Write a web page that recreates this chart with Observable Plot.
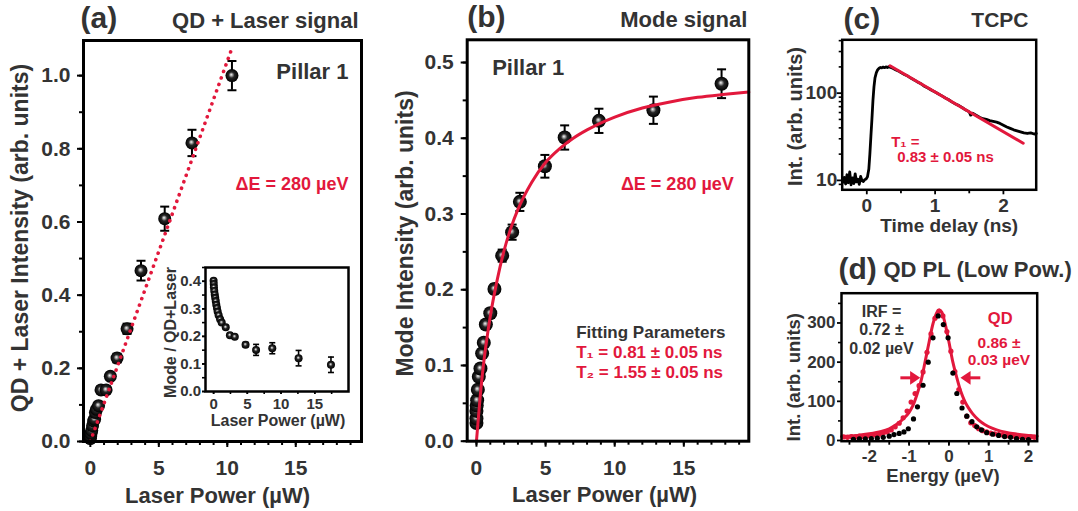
<!DOCTYPE html>
<html><head><meta charset="utf-8">
<script src="https://cdn.jsdelivr.net/npm/d3@7"></script>
<script src="https://cdn.jsdelivr.net/npm/@observablehq/plot@0.6"></script>
<style>
body{margin:0;background:#fff;}
#root{position:relative;width:1078px;height:511px;overflow:hidden;background:#fff;}
</style></head><body><div id="root"></div>
<script>
// ---------------- DATA ----------------
// (a) QD + Laser signal
const aPower = [0.0, 0.02, 0.05, 0.1, 0.16, 0.24, 0.31, 0.37, 0.45, 0.6, 0.78, 1.15, 1.46, 1.95, 2.68, 3.7, 5.43, 7.42, 10.34];
const aInt   = [0.008, 0.014, 0.022, 0.03, 0.043, 0.056, 0.061, 0.079, 0.088, 0.098, 0.141, 0.141, 0.178, 0.228, 0.308, 0.467, 0.609, 0.816, 1.0];
const aErr   = [0.005, 0.005, 0.005, 0.005, 0.006, 0.006, 0.006, 0.007, 0.007, 0.008, 0.009, 0.009, 0.01, 0.012, 0.014, 0.027, 0.033, 0.036, 0.04];
const aFitX  = [0, 10.35];
const aFitY  = [0, 1.076];
// (a) inset: Mode / (QD+Laser)
const insPower = [0.0, 0.02, 0.05, 0.1, 0.17, 0.24, 0.32, 0.4, 0.5, 0.6, 0.75, 0.97, 1.2, 1.8, 2.42, 3.14, 4.74, 6.3, 8.7, 12.6, 17.4];
const insRatio = [0.402, 0.39, 0.378, 0.365, 0.352, 0.34, 0.328, 0.315, 0.303, 0.29, 0.277, 0.262, 0.25, 0.233, 0.204, 0.199, 0.17, 0.151, 0.157, 0.121, 0.097];
const insErr   = [0.004, 0.004, 0.004, 0.004, 0.004, 0.004, 0.004, 0.004, 0.004, 0.004, 0.004, 0.004, 0.004, 0.005, 0.005, 0.005, 0.008, 0.02, 0.02, 0.028, 0.028];
// (b) Mode signal
const bPower = [0.0, 0.0, 0.0, 0.02, 0.05, 0.1, 0.17, 0.29, 0.41, 0.53, 0.68, 1.0, 1.3, 1.86, 2.58, 3.14, 4.95, 6.38, 8.86, 12.8, 17.73];
const bInt   = [0.024, 0.03, 0.04, 0.047, 0.054, 0.068, 0.085, 0.096, 0.116, 0.13, 0.154, 0.169, 0.201, 0.245, 0.276, 0.316, 0.363, 0.401, 0.423, 0.437, 0.472];
const bErr   = [0.004, 0.004, 0.004, 0.004, 0.004, 0.004, 0.004, 0.004, 0.005, 0.005, 0.005, 0.006, 0.006, 0.008, 0.01, 0.012, 0.015, 0.016, 0.016, 0.018, 0.019];
const bFitX  = [0, 0.25, 0.5, 0.75, 1, 1.5, 2, 2.5, 3, 4, 5, 6, 7, 8, 10, 12, 14, 16, 18, 19.7];
const bFitY  = [0, 0.055, 0.1, 0.135, 0.165, 0.213, 0.252, 0.282, 0.306, 0.342, 0.368, 0.386, 0.4, 0.411, 0.428, 0.44, 0.448, 0.454, 0.458, 0.461];
// (c) TCPC
const cTime = [-0.35,-0.33,-0.31,-0.29,-0.27,-0.25,-0.23,-0.21,-0.19,-0.17,-0.15,-0.13,-0.11,-0.09,-0.07,-0.05,-0.03,-0.01,
  0.01,0.03,0.045,0.06,0.075,0.09,0.105,0.12,0.14,0.16,0.18,0.2,0.22,0.24,0.26,0.28,0.3,0.32,0.34,0.38,0.42,0.46,
  0.5,0.55,0.6,0.65,0.7,0.75,0.8,0.85,0.9,0.95,1.0,1.05,1.1,1.15,1.2,1.25,1.3,1.35,1.4,1.45,1.5,1.52,
  1.55,1.6,1.65,1.7,1.75,1.8,1.85,1.9,1.95,2.0,2.05,2.1,2.15,2.2,2.25,2.3,2.35,2.4,2.45,2.48];
const cCounts = [9.5,10.8,9.1,11.6,9.4,12.5,8.9,10.7,9.2,11.9,9.6,10.3,9.0,11.1,9.9,9.7,10.2,10.4,
  11.0,13.5,20,32,50,82,118,150,172,186,193,197,195,199,196,200,197,201,198,193,186,180,
  172,164,157,148,141,133,127,119,114,108,103,98,93,88,84,79,75,72,68,64,61,56,
  59,56,53,51,50,48.5,47.5,46.5,45,43,41,39.5,38,37,36,35,34.5,35,34,34.5];
const cFitX = [0.34, 2.29];
const cFitY = [206, 26.7];
// (d) QD PL (low power)
const dFitX = [-2.7, -2.3, -2.0, -1.7, -1.5, -1.3, -1.1, -1.0, -0.9, -0.8, -0.7, -0.6, -0.5, -0.4, -0.3, -0.24, -0.18, -0.1, 0.0, 0.1, 0.2, 0.3, 0.4, 0.5, 0.6, 0.75, 0.9, 1.1, 1.3, 1.6, 2.0, 2.22];
const dFitY = [10, 13, 17, 23, 30, 42, 60, 72, 90, 118, 152, 200, 250, 298, 327, 333, 328, 300, 252, 200, 160, 125, 100, 82, 68, 52, 41, 31, 24, 18, 13, 11];
const dQDx = [-2.65,-2.55,-2.45,-2.35,-2.25,-2.15,-2.05,-1.95,-1.85,-1.75,-1.65,-1.55,-1.45,-1.35,-1.25,-1.15,-1.05,-0.95,-0.85,-0.75,-0.65,-0.55,-0.45,-0.35,-0.25,-0.15,-0.05,0.05,0.15,0.25,0.35,0.45,0.55,0.65,0.75,0.85,0.95,1.05,1.15,1.25,1.35,1.45,1.55,1.65,1.75,1.85,1.95,2.05,2.15];
const dQDy = [9,8,10,9,11,10,12,13,14,16,19,22,27,35,44,58,75,98,120,140,175,225,272,312,330,318,278,228,176,130,98,62,45,38,30,25,22,19,17,15,14,12,12,11,10,10,9,9,8];
const dIRFx = [-2.4,-2.25,-2.1,-1.95,-1.8,-1.65,-1.5,-1.38,-1.25,-1.13,-1.02,-0.89,-0.79,-0.65,-0.52,-0.4,-0.27,-0.14,-0.02,0.1,0.2,0.33,0.45,0.58,0.7,0.82,0.95,1.1,1.25,1.4,1.55,1.7,1.85,2.0];
const dIRFy = [3,4,4,5,6,8,11,15,18,22,30,55,86,141,200,262,318,296,262,172,120,83,62,48,35,27,20,16,13,10,8,5,3,2];
const dArrowFrom = [-1.22, 0.79];
const dArrowTip  = [-0.72, 0.29];
const dArrowY    = [160, 160];
const dArrowRot  = [0, 180];

// tick labels
const aTicksX = [0, 5, 10, 15], aTicksY = [0, 0.2, 0.4, 0.6, 0.8, 1.0];
const bTicksX = [0, 5, 10, 15], bTicksY = [0, 0.1, 0.2, 0.3, 0.4, 0.5];
const iTicksX = [0, 5, 10, 15], iTicksY = [0, 0.1, 0.2, 0.3, 0.4];
const cTicksX = [0, 1, 2], cTicksY = [10, 100];
const dTicksX = [-2, -1, 0, 1, 2], dTicksY = [0, 100, 200, 300];

// ---------------- STYLE ----------------
const RED = "#e2183c", INK = "#333333";
const FONT = "'Liberation Sans', Arial, Helvetica, sans-serif";
const root = document.getElementById("root");

const capSym = {draw(ctx, size) { const r = Math.sqrt(size / Math.PI); ctx.moveTo(-r, 0); ctx.lineTo(r, 0); }};
const headSym = {draw(ctx, size) { const r = Math.sqrt(size / Math.PI); ctx.moveTo(0, 0); ctx.lineTo(-2.2 * r, -1.5 * r); ctx.lineTo(-2.2 * r, 1.5 * r); ctx.closePath(); }};

function txt(s, o) {
  return Plot.text([s], {text: d => d, fontFamily: FONT, fontWeight: "bold", fill: INK, ...o});
}
function ytitle(s, o) {
  return txt(s, {frameAnchor: "left", rotate: -90, textAnchor: "middle", lineAnchor: "middle", ...o});
}
function axX(ticks, o) {
  return Plot.axisX(ticks, {anchor: "bottom", label: null, stroke: "black", fill: INK, fontFamily: FONT, fontWeight: "bold", ...o});
}
function axY(ticks, o) {
  return Plot.axisY(ticks, {anchor: "left", label: null, stroke: "black", fill: INK, fontFamily: FONT, fontWeight: "bold", ...o});
}
const none = () => "";
function range(a, b, s) { const r = []; for (let i = 0; a + i * s <= b + 1e-9; i++) r.push(+(a + i * s).toFixed(4)); return r; }
function mount(svg, left, top, gradId) {
  svg.style.position = "absolute";
  svg.style.left = left + "px";
  svg.style.top = top + "px";
  svg.style.overflow = "visible";
  svg.style.background = "transparent";
  svg.style.maxWidth = "none";
  if (gradId) {
    svg.insertAdjacentHTML("afterbegin",
      `<defs><radialGradient id="${gradId}" cx="50%" cy="50%" r="50%" fx="44%" fy="42%">
        <stop offset="0%" stop-color="#f4f4f4"/><stop offset="18%" stop-color="#a8a8a8"/>
        <stop offset="45%" stop-color="#262626"/><stop offset="100%" stop-color="#000"/></radialGradient></defs>`);
  }
  root.appendChild(svg);
}
function errMarks(data, capR, w) {
  return [
    Plot.ruleX(data, {x: "x", y1: d => d.y - d.e, y2: d => d.y + d.e, stroke: "black", strokeWidth: w}),
    Plot.dot(data, {x: "x", y: d => d.y - d.e, symbol: capSym, r: capR, stroke: "black", strokeWidth: w, fill: "none"}),
    Plot.dot(data, {x: "x", y: d => d.y + d.e, symbol: capSym, r: capR, stroke: "black", strokeWidth: w, fill: "none"})
  ];
}

// ---------------- PANEL (a) ----------------
const aData = aPower.map((x, i) => ({x, y: aInt[i], e: aErr[i]}));
const aFit = aFitX.map((x, i) => ({x, y: aFitY[i]}));
const svgA = Plot.plot({
  width: 370, height: 511, marginLeft: 83, marginRight: 9, marginTop: 40, marginBottom: 70,
  x: {domain: [-0.5, 19.8]}, y: {domain: [0, 1.096]},
  marks: [
    ...errMarks(aData, 4.5, 2),
    Plot.dot(aData, {x: "x", y: "y", r: 6.5, fill: "url(#ballA)"}),
    Plot.line(aFit, {x: "x", y: "y", stroke: RED, strokeWidth: 3.6, strokeDasharray: "0.1 6.8", strokeLinecap: "round"}),
    axX(range(0, 19, 1), {tickSize: 4, tickFormat: none, strokeWidth: 2}),
    axX(aTicksX, {tickSize: 6, tickPadding: 13, fontSize: 21, strokeWidth: 2, tickFormat: d => String(d)}),
    axY(range(0, 1.0, 0.1), {tickSize: 4, tickFormat: none, strokeWidth: 2}),
    axY(aTicksY, {tickSize: 6, tickPadding: 7, fontSize: 21, strokeWidth: 2, tickFormat: d3.format(".1f")}),
    Plot.frame({stroke: "black", strokeWidth: 3}),
    txt("(a)", {frameAnchor: "top-left", textAnchor: "start", lineAnchor: "bottom", dx: -3, dy: -13, fontSize: 30}),
    txt("QD + Laser signal", {frameAnchor: "top-right", textAnchor: "end", lineAnchor: "bottom", dx: -3, dy: -13, fontSize: 22}),
    txt("Pillar 1", {frameAnchor: "top-right", textAnchor: "end", lineAnchor: "bottom", dx: -13, dy: 38, fontSize: 22}),
    txt("ΔE = 280 µeV", {frameAnchor: "top-right", textAnchor: "end", lineAnchor: "bottom", dx: -13, dy: 149, fontSize: 18, fill: RED}),
    ytitle("QD + Laser Intensity (arb. units)", {dx: -63, dy: -3, fontSize: 23}),
    txt("Laser Power (µW)", {frameAnchor: "bottom", textAnchor: "middle", lineAnchor: "bottom", dx: -5, dy: 61, fontSize: 22})
  ]
});
mount(svgA, 0, 0, "ballA");

// ---------------- INSET ----------------
const iData = insPower.map((x, i) => ({x, y: insRatio[i], e: insErr[i]}));
const svgI = Plot.plot({
  width: 230, height: 175, marginLeft: 75, marginRight: 12, marginTop: 12, marginBottom: 39,
  x: {domain: [-1.2, 20]}, y: {domain: [0, 0.45]},
  marks: [
    ...errMarks(iData, 3, 1.6),
    Plot.dot(iData, {x: "x", y: "y", r: 4, fill: "url(#ballI)"}),
    axX(range(0, 17.5, 2.5), {tickSize: 3, tickFormat: none, strokeWidth: 1.6}),
    axX(iTicksX, {tickSize: 3, tickPadding: 4, fontSize: 15, strokeWidth: 1.6, tickFormat: d => String(d)}),
    axY(range(0, 0.45, 0.05), {tickSize: 3, tickFormat: none, strokeWidth: 1.6}),
    axY(iTicksY, {tickSize: 3, tickPadding: 1.5, fontSize: 15, strokeWidth: 1.6, tickFormat: d3.format(".1f")}),
    Plot.frame({stroke: "black", strokeWidth: 2.5}),
    ytitle("Mode / QD+Laser", {dx: -35, dy: 3, fontSize: 16}),
    txt("Laser Power (µW)", {frameAnchor: "bottom", textAnchor: "middle", lineAnchor: "bottom", dx: 1, dy: 34, fontSize: 16})
  ]
});
mount(svgI, 130, 255, "ballI");

// ---------------- PANEL (b) ----------------
const bData = bPower.map((x, i) => ({x, y: bInt[i], e: bErr[i]}));
const bFit = bFitX.map((x, i) => ({x, y: bFitY[i]}));
const svgB = Plot.plot({
  width: 390, height: 511, marginLeft: 96.7, marginRight: 11.7, marginTop: 39.3, marginBottom: 70.3,
  x: {domain: [-0.67, 19.7]}, y: {domain: [0, 0.53]},
  marks: [
    ...errMarks(bData, 4.5, 2),
    Plot.dot(bData, {x: "x", y: "y", r: 7, fill: "url(#ballB)"}),
    Plot.line(bFit, {x: "x", y: "y", stroke: RED, strokeWidth: 3, curve: "monotone-x"}),
    axX(range(0, 19, 1), {tickSize: 4, tickFormat: none, strokeWidth: 2}),
    axX(bTicksX, {tickSize: 6, tickPadding: 13, fontSize: 21, strokeWidth: 2, tickFormat: d => String(d)}),
    axY(range(0, 0.5, 0.05), {tickSize: 4, tickFormat: none, strokeWidth: 2}),
    axY(bTicksY, {tickSize: 6, tickPadding: 7.5, fontSize: 21, strokeWidth: 2, tickFormat: d3.format(".1f")}),
    Plot.frame({stroke: "black", strokeWidth: 3}),
    txt("(b)", {frameAnchor: "top-left", textAnchor: "start", lineAnchor: "bottom", dx: 0, dy: -12.5, fontSize: 30}),
    txt("Mode signal", {frameAnchor: "top-right", textAnchor: "end", lineAnchor: "bottom", dx: -1.5, dy: -12.5, fontSize: 22}),
    txt("Pillar 1", {frameAnchor: "top-left", textAnchor: "start", lineAnchor: "bottom", dx: 25, dy: 35, fontSize: 22}),
    txt("ΔE = 280 µeV", {frameAnchor: "top-right", textAnchor: "end", lineAnchor: "bottom", dx: -15, dy: 150, fontSize: 18, fill: RED}),
    txt("Fitting Parameters", {frameAnchor: "top-left", textAnchor: "start", lineAnchor: "bottom", dx: 109, dy: 298, fontSize: 17}),
    txt("T₁ = 0.81 ± 0.05 ns", {frameAnchor: "top-left", textAnchor: "start", lineAnchor: "bottom", dx: 109, dy: 318, fontSize: 17, fill: RED}),
    txt("T₂ = 1.55 ± 0.05 ns", {frameAnchor: "top-left", textAnchor: "start", lineAnchor: "bottom", dx: 109, dy: 338, fontSize: 17, fill: RED}),
    ytitle("Mode Intensity (arb. units)", {dx: -61.7, dy: -7, fontSize: 23}),
    txt("Laser Power (µW)", {frameAnchor: "bottom", textAnchor: "middle", lineAnchor: "bottom", dx: -3.5, dy: 61, fontSize: 22})
  ]
});
mount(svgB, 370, 0, "ballB");

// ---------------- PANEL (c) ----------------
const cData = cTime.map((x, i) => ({x, y: cCounts[i]}));
const cFit = cFitX.map((x, i) => ({x, y: cFitY[i]}));
const svgC = Plot.plot({
  width: 308, height: 250, marginLeft: 71.7, marginRight: 42.3, marginTop: 39.3, marginBottom: 60.7,
  x: {domain: [-0.36, 2.48]}, y: {type: "log", domain: [7.8, 409]},
  marks: [
    Plot.line(cData, {x: "x", y: "y", stroke: "black", strokeWidth: 2.8, strokeLinejoin: "round"}),
    Plot.line(cFit, {x: "x", y: "y", stroke: RED, strokeWidth: 3}),
    axX([0.5, 1.5], {tickSize: 4, tickFormat: none, strokeWidth: 1.8}),
    axX(cTicksX, {tickSize: 5, tickPadding: 4, fontSize: 19, strokeWidth: 1.8, tickFormat: d => String(d)}),
    axY([9, 20, 30, 40, 50, 60, 70, 80, 90, 200, 300, 400], {tickSize: 3, tickFormat: none, strokeWidth: 1.6}),
    axY(cTicksY, {tickSize: 5, tickPadding: 0, fontSize: 19, strokeWidth: 1.8, tickFormat: d => String(d)}),
    Plot.frame({stroke: "black", strokeWidth: 2.5}),
    txt("(c)", {frameAnchor: "top-left", textAnchor: "start", lineAnchor: "bottom", dx: 1.3, dy: -10.6, fontSize: 30}),
    txt("TCPC", {frameAnchor: "top-right", textAnchor: "end", lineAnchor: "bottom", dx: -7.7, dy: -12.6, fontSize: 21}),
    txt("T₁ =", {frameAnchor: "top-left", textAnchor: "start", lineAnchor: "bottom", dx: 49, dy: 107.4, fontSize: 15, fill: RED}),
    txt("0.83 ± 0.05 ns", {frameAnchor: "top-left", textAnchor: "start", lineAnchor: "bottom", dx: 55, dy: 122.4, fontSize: 15, fill: RED}),
    ytitle("Int. (arb. units)", {dx: -46.7, dy: 1.7, fontSize: 20}),
    txt("Time delay (ns)", {frameAnchor: "bottom", textAnchor: "middle", lineAnchor: "bottom", dx: 10, dy: 42.4, fontSize: 19})
  ]
});
mount(svgC, 770, 0);

// ---------------- PANEL (d) ----------------
const dFit = dFitX.map((x, i) => ({x, y: dFitY[i]}));
const dQD = dQDx.map((x, i) => ({x, y: dQDy[i]}));
const dIRF = dIRFx.map((x, i) => ({x, y: dIRFy[i]}));
const dArr = dArrowTip.map((t, i) => ({x1: dArrowFrom[i], x2: t, y: dArrowY[i], rot: dArrowRot[i]}));
const svgD = Plot.plot({
  width: 308, height: 261, marginLeft: 71, marginRight: 41.3, marginTop: 42.7, marginBottom: 70.3,
  x: {domain: [-2.7, 2.22]}, y: {domain: [-1.8, 376]},
  marks: [
    Plot.line(dFit, {x: "x", y: "y", stroke: RED, strokeWidth: 3, curve: "catmull-rom"}),
    Plot.dot(dQD, {x: "x", y: "y", r: 2.6, fill: RED}),
    Plot.dot(dIRF, {x: "x", y: "y", r: 2.6, fill: "black"}),
    Plot.link(dArr, {x1: "x1", x2: d => d.x2 + (d.x1 < d.x2 ? -0.15 : 0.15), y1: "y", y2: "y", stroke: RED, strokeWidth: 3}),
    Plot.dot(dArr, {x: "x2", y: "y", symbol: headSym, r: 4.6, fill: RED, rotate: "rot"}),
    axX(range(-2.5, 2, 0.5), {tickSize: 4, tickFormat: none, strokeWidth: 1.8}),
    axX(dTicksX, {tickSize: 5, tickPadding: 4, fontSize: 17, strokeWidth: 1.8, tickFormat: d => String(d)}),
    axY([50, 150, 250, 350], {tickSize: 3, tickFormat: none, strokeWidth: 1.6}),
    axY(dTicksY, {tickSize: 4, tickPadding: 2, fontSize: 17, strokeWidth: 1.8, tickFormat: d => String(d)}),
    Plot.frame({stroke: "black", strokeWidth: 2.5}),
    txt("(d)", {frameAnchor: "top-left", textAnchor: "start", lineAnchor: "bottom", dx: -3, dy: -14.7, fontSize: 30}),
    txt("QD PL (Low Pow.)", {frameAnchor: "top-left", textAnchor: "start", lineAnchor: "bottom", dx: 42, dy: -16, fontSize: 22}),
    txt("IRF =\n0.72 ±\n0.02 µeV", {frameAnchor: "top-left", textAnchor: "middle", lineAnchor: "bottom", lineHeight: 1.15, dx: 40, dy: 60.3, fontSize: 16}),
    txt("QD", {frameAnchor: "top-left", textAnchor: "middle", lineAnchor: "bottom", dx: 158.7, dy: 30.3, fontSize: 16.5, fill: RED}),
    txt("0.86 ±\n0.03 µeV", {frameAnchor: "top-left", textAnchor: "middle", lineAnchor: "bottom", lineHeight: 1.08, dx: 157.5, dy: 72, fontSize: 15.5, fill: RED}),
    ytitle("Int. (arb. units)", {dx: -47, dy: 10, fontSize: 18.5}),
    txt("Energy (µeV)", {frameAnchor: "bottom", textAnchor: "middle", lineAnchor: "bottom", dx: 3.7, dy: 40.5, fontSize: 18.5})
  ]
});
mount(svgD, 770, 250);
</script></body></html>
